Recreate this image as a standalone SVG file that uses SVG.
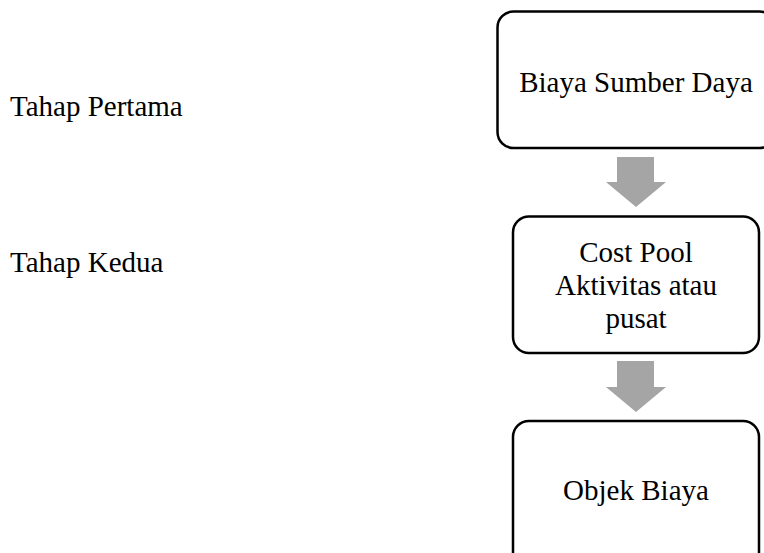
<svg xmlns="http://www.w3.org/2000/svg" width="764" height="553" viewBox="0 0 764 553">
<style>
.t{font-family:"Liberation Serif","Times New Roman",serif;font-size:29px;fill:#000}
.c{text-anchor:middle}
.box{fill:#fff;stroke:#000;stroke-width:2.5}
.arr{fill:#a5a5a5;stroke:none}
</style>
<rect width="764" height="553" fill="#fff"/>
<g id="label-tahap-pertama"><text class="t" x="10" y="116">Tahap Pertama</text></g>
<g id="label-tahap-kedua"><text class="t" x="10" y="272">Tahap Kedua</text></g>
<g id="connectors">
<path class="arr" d="M617,157 H654 V182 H666 L636,207 L606,182 H617 Z"/>
<path class="arr" d="M617,361 H654 V387 H666 L636,412 L606,387 H617 Z"/>
</g>
<g id="node-biaya-sumber-daya">
<rect class="box" x="497.5" y="11.5" width="278" height="136.5" rx="16"/>
<text class="t c" x="636" y="92">Biaya Sumber Daya</text>
</g>
<g id="node-cost-pool">
<rect class="box" x="513" y="216.5" width="246" height="136.5" rx="16"/>
<text class="t c" x="636" y="262">Cost Pool</text>
<text class="t c" x="636" y="295">Aktivitas atau</text>
<text class="t c" x="636" y="328">pusat</text>
</g>
<g id="node-objek-biaya">
<rect class="box" x="513" y="421" width="246" height="150" rx="16"/>
<text class="t c" x="636" y="500">Objek Biaya</text>
</g>
</svg>
